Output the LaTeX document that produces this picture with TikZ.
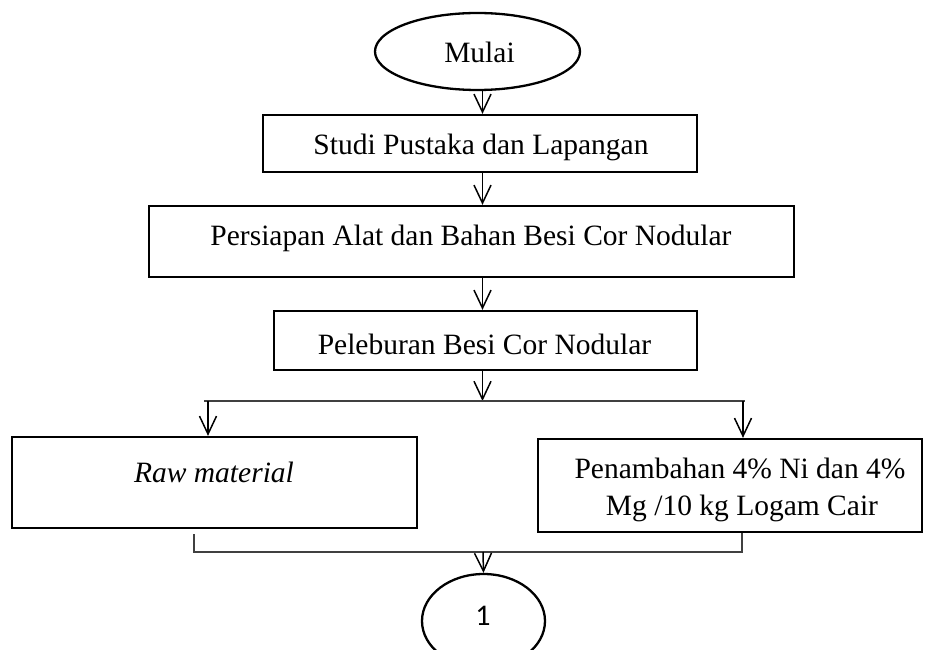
\documentclass[tikz,border=0pt]{standalone}
\usepackage{fontspec}
\setmainfont{Liberation Serif}
\newfontfamily\calib{Carlito}
\usetikzlibrary{arrows.meta,shapes.geometric}
\begin{document}
\begin{tikzpicture}[x=1pt,y=-1pt,
  boxst/.style={draw,line width=2.3pt,rectangle,inner sep=0pt},
  ellst/.style={draw,line width=2.3pt,ellipse,inner sep=0pt},
  txt/.style={anchor=base,inner sep=0pt,font=\fontsize{29.5}{35}\selectfont},
  arr/.style={line width=1.5pt,-{Straight Barb[length=18pt,width=17pt,line width=1.5pt]}},
  thin/.style={line width=1.2pt,draw=black!75}]
\useasboundingbox (0,0) rectangle (938,650);
% shapes
\node[ellst,minimum width=205pt,minimum height=77pt] (mulai) at (477.5,51.5) {};
\node[txt] (tmulai) at (479.5,63) {Mulai};
\node[boxst,minimum width=434pt,minimum height=57pt] (b1) at (480,143.5) {};
\node[txt] (t1) at (481,155) {Studi Pustaka dan Lapangan};
\node[boxst,minimum width=645pt,minimum height=71pt] (b2) at (471.5,241.5) {};
\node[txt] (t2) at (471,245) {Persiapan Alat dan Bahan Besi Cor Nodular};
\node[boxst,minimum width=423pt,minimum height=59pt] (b3) at (485.5,340.5) {};
\node[txt] (t3) at (484.5,354) {Peleburan Besi Cor Nodular};
\node[boxst,minimum width=405pt,minimum height=91pt] (bl) at (214.5,482.5) {};
\node[txt] (tl) at (214,482) {\itshape Raw material};
\node[boxst,minimum width=384pt,minimum height=93pt] (br) at (730,485.5) {};
\node[txt] (tr1) at (740,478) {Penambahan 4\%  Ni dan 4\%};
\node[txt] (tr2) at (742,515) {Mg /10 kg Logam Cair};
\node[ellst,minimum width=123pt,minimum height=94pt] (c1) at (483.5,621) {};
\node[anchor=base,inner sep=0pt,font=\calib\fontsize{30}{36}\selectfont] (tc1) at (483,625) {1};
% junction coordinates
\coordinate (ax) at (482.5,0);
\coordinate (splitL) at (204,401);
\coordinate (splitR) at (745,401);
\coordinate (aL) at (208,401);
\coordinate (aR) at (743,401);
\coordinate (jL) at (194,552);
\coordinate (jR) at (742,552);
\coordinate (jM) at (483,552);
% connectors
\draw[arr] (mulai.south -| ax) -- (b1.north -| ax);
\draw[arr] (b1.south -| ax) -- (b2.north -| ax);
\draw[arr] (b2.south -| ax) -- (b3.north -| ax);
\draw[arr] (b3.south -| ax) -- (splitL -| ax);
\draw[thin] (splitL) -- (splitR);
\draw[arr] (aL) -- (aL |- bl.north);
\draw[arr] (aR) -- (aR |- br.north);
\draw[thin] ([yshift=-5pt]bl.south -| jL) -- (jL) -- (jR) -- (br.south -| jR);
\draw[arr] (jM) -- (c1.north);
\end{tikzpicture}
\end{document}
